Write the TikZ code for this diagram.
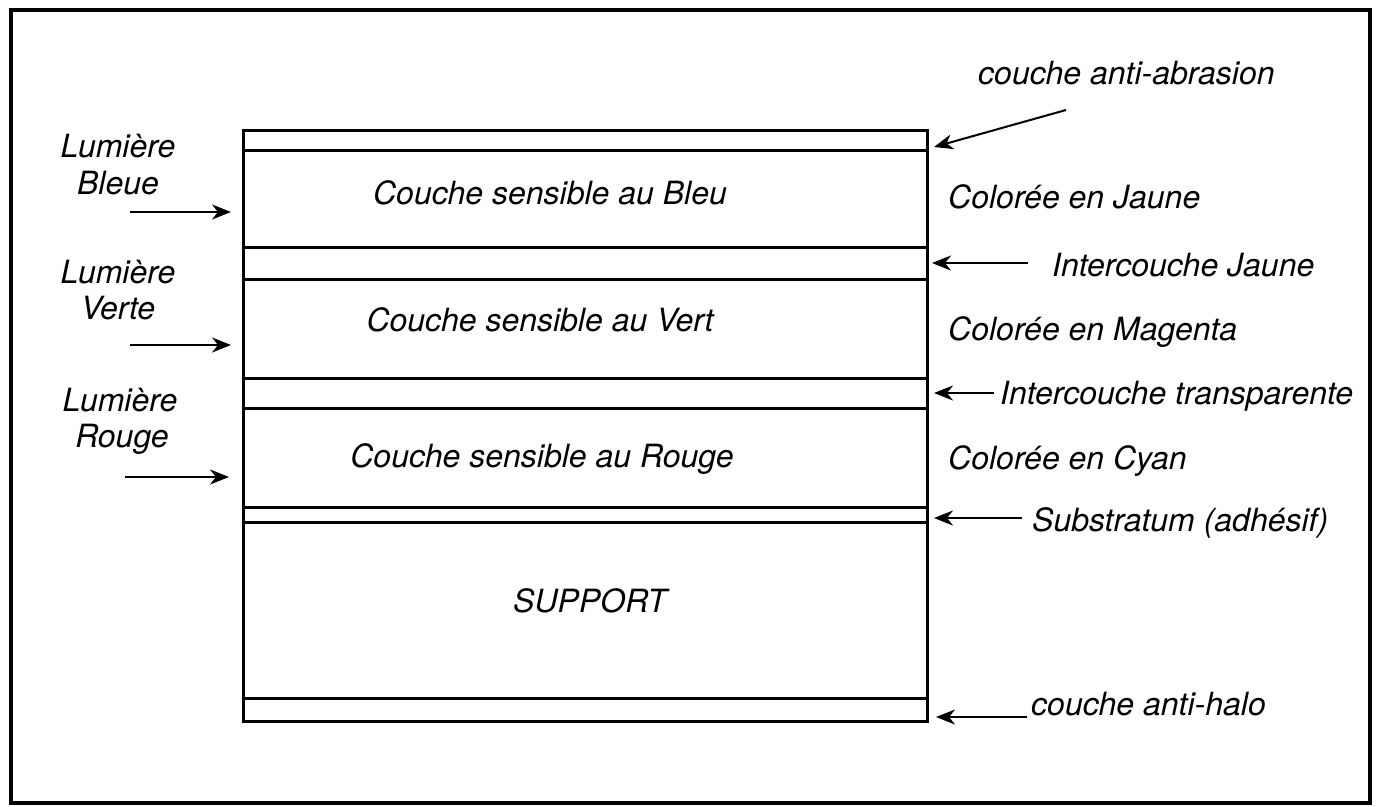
\documentclass[tikz,border=0pt]{standalone}
\usepackage{fontspec}
\setmainfont{TeX Gyre Heros}
\usetikzlibrary{arrows.meta}
\begin{document}
\begin{tikzpicture}[x=1pt,y=-1pt,
  lbl/.style={font=\fontsize{32}{36}\selectfont\itshape, inner sep=0pt, anchor=base},
  lblw/.style={lbl, anchor=base west},
  arr/.style={-{Stealth[length=19pt,width=15pt,inset=6pt]}, line width=2pt},
  layer/.style={line width=3pt},
  frame/.style={line width=4.5pt}]
\useasboundingbox (0,0) rectangle (1381,806);
\draw[frame] (11,10) rectangle (1370,803);
% stack
\draw[layer] (243,130) rectangle (927,721);
\foreach \yy in {150,247,279,378,408,507,522,698}
  \draw[layer] (243,\yy) -- (927,\yy);
% layer texts
\node[lbl] (cb) at (550,204) {Couche sensible au Bleu};
\node[lbl] (cv) at (540,331) {Couche sensible au Vert};
\node[lbl] (cr) at (542,467) {Couche sensible au Rouge};
\node[lbl] (sup) at (590,612) {SUPPORT};
% left labels
\node[lbl] (lb1) at (118,157) {Lumière};
\node[lbl] (lb2) at (118,194) {Bleue};
\node[lbl] (lv1) at (118,283) {Lumière};
\node[lbl] (lv2) at (118,319) {Verte};
\node[lbl] (lr1) at (120,411) {Lumière};
\node[lbl] (lr2) at (122,447) {Rouge};
% left arrows
\coordinate (bS) at (130,212); \coordinate (bE) at (231,212);
\coordinate (vS) at (130,345); \coordinate (vE) at (231,345);
\coordinate (rS) at (125,477); \coordinate (rE) at (229,477);
\draw[arr] (bS) -- (bE);
\draw[arr] (vS) -- (vE);
\draw[arr] (rS) -- (rE);
% right labels
\node[lblw] (abr) at (978,84) {couche anti-abrasion};
\node[lblw] (cj) at (948,208) {Colorée en Jaune};
\node[lblw] (ij) at (1052,276) {Intercouche Jaune};
\node[lblw] (cm) at (948,340) {Colorée en Magenta};
\node[lblw] (it) at (1000,404) {Intercouche transparente};
\node[lblw] (cc) at (948,469) {Colorée en Cyan};
\node[lblw] (sub) at (1032,531) {Substratum (adhésif)};
\node[lblw] (ah) at (1031,715) {couche anti-halo};
% right arrows
\coordinate (aS) at (1066,110); \coordinate (aE) at (934,147);
\coordinate (jS) at (1028,263); \coordinate (jE) at (932,263);
\coordinate (tS) at (994,393); \coordinate (tE) at (934,393);
\coordinate (sS) at (1022,518); \coordinate (sE) at (934,518);
\coordinate (hS) at (1027,717); \coordinate (hE) at (936,717);
\draw[arr] (aS) -- (aE);
\draw[arr] (jS) -- (jE);
\draw[arr] (tS) -- (tE);
\draw[arr] (sS) -- (sE);
\draw[arr] (hS) -- (hE);
\end{tikzpicture}
\end{document}
